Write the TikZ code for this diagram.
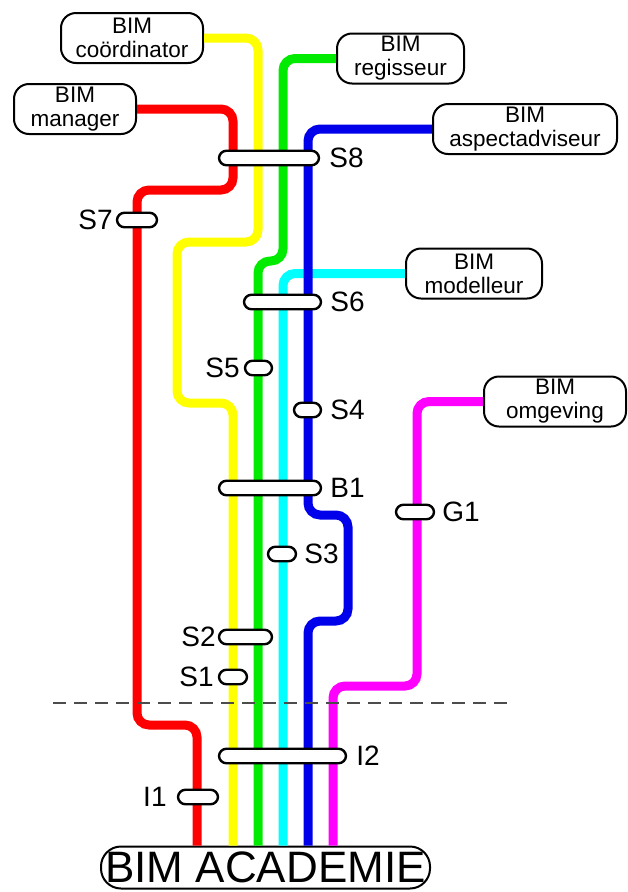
\documentclass[tikz,border=0pt]{standalone}
\usepackage{fontspec}
\setmainfont{Liberation Sans}
\definecolor{mred}{RGB}{255,0,0}
\definecolor{myellow}{RGB}{255,255,0}
\definecolor{mgreen}{RGB}{0,235,0}
\definecolor{mcyan}{RGB}{0,255,255}
\definecolor{mblue}{RGB}{0,0,235}
\definecolor{mmagenta}{RGB}{255,0,255}
\begin{document}
\begin{tikzpicture}[x=1pt,y=-1pt,
  role/.style={draw, line width=2pt, fill=white, rounded corners=15pt, align=center,
    font=\fontsize{22.5}{24}\selectfont, inner sep=0pt, minimum height=50pt},
  stn/.style={draw, line width=2.4pt, fill=white, rounded corners=7.5pt,
    minimum height=14.5pt, inner sep=0pt},
  stnlabel/.style={inner sep=0pt, font=\fontsize{28}{28}\selectfont},
  metro/.style={line width=9pt, rounded corners=12pt},
  divider/.style={line width=1.5pt, draw=black!70, dash pattern=on 13pt off 8pt},
]
\useasboundingbox (0,0) rectangle (628,892);

% role boxes
\node[role, minimum width=142pt] (coord) at (132,38) {BIM\\coördinator};
\node[role, minimum width=122pt] (manager) at (75,109) {BIM\\manager};
\node[role, minimum width=127pt] (regis) at (400.5,58.5) {BIM\\regisseur};
\node[role, minimum width=184pt] (aspect) at (525,129) {BIM\\aspectadviseur};
\node[role, minimum width=136pt] (model) at (474,273.5) {BIM\\modelleur};
\node[role, minimum width=142pt] (omgev) at (555,401.5) {BIM\\omgeving};
\node[draw, line width=2pt, fill=white, rounded corners=20pt, inner sep=0pt,
  minimum width=329pt, minimum height=42pt, font=\fontsize{44}{44}\selectfont]
  (academie) at (265.5,867.5) {BIM ACADEMIE};

% metro lines
\draw[metro, mred] (manager.east) -- (233,109) -- (233,190) -- (137,190)
  -- (137,725) -- (197,725) -- (197,725 |- academie.north);
\draw[metro, myellow] (coord.east) -- (258,38) -- (258,242) -- (177,242)
  -- (177,403) -- (233,403) -- (233,403 |- academie.north);
\draw[metro, mgreen] (regis.west) -- (283,58.5) -- (283,261) -- (258,261)
  -- (258,261 |- academie.north);
\draw[metro, mcyan] (model.west) -- (283,273.5) -- (283,273.5 |- academie.north);
\draw[metro, mblue] (aspect.west) -- (308,129) -- (308,515) -- (348,515)
  -- (348,621) -- (308,621) -- (308,621 |- academie.north);
\draw[metro, mmagenta] (omgev.west) -- (417,401.5) -- (417,686) -- (333,686)
  -- (333,686 |- academie.north);

% divider
\coordinate (dl) at (53,703);
\coordinate (dr) at (507,703);
\draw[divider] (dl) -- (dr);

% stations
\node[stn, minimum width=100pt] (s8) at (269,158) {};
\node[stnlabel, anchor=west] (s8l) at ([xshift=9pt]s8.east) {S8};
\node[stn, minimum width=40pt] (s7) at (137,220) {};
\node[stnlabel, anchor=east] (s7l) at ([xshift=-3pt]s7.west) {S7};
\node[stn, minimum width=77pt] (s6) at (282.5,302) {};
\node[stnlabel, anchor=west] (s6l) at ([xshift=8pt]s6.east) {S6};
\node[stn, minimum width=27pt] (s5) at (258.5,368) {};
\node[stnlabel, anchor=east] (s5l) at ([xshift=-4pt]s5.west) {S5};
\node[stn, minimum width=27pt] (s4) at (307.5,410) {};
\node[stnlabel, anchor=west] (s4l) at ([xshift=8pt]s4.east) {S4};
\node[stn, minimum width=102pt] (b1) at (270,488) {};
\node[stnlabel, anchor=west] (b1l) at ([xshift=8pt]b1.east) {B1};
\node[stn, minimum width=38pt] (g1) at (415,512) {};
\node[stnlabel, anchor=west] (g1l) at ([xshift=7pt]g1.east) {G1};
\node[stn, minimum width=28pt] (s3) at (282,554) {};
\node[stnlabel, anchor=west] (s3l) at ([xshift=7pt]s3.east) {S3};
\node[stn, minimum width=53pt] (s2) at (245.5,637) {};
\node[stnlabel, anchor=east] (s2l) at ([xshift=-2pt]s2.west) {S2};
\node[stn, minimum width=28pt] (s1) at (233,677) {};
\node[stnlabel, anchor=east] (s1l) at ([xshift=-4pt]s1.west) {S1};
\node[stn, minimum width=127pt] (i2) at (282.5,756) {};
\node[stnlabel, anchor=west] (i2l) at ([xshift=9pt]i2.east) {I2};
\node[stn, minimum width=40pt] (i1) at (198,797) {};
\node[stnlabel, anchor=east] (i1l) at ([xshift=-10pt]i1.west) {I1};
\end{tikzpicture}
\end{document}
